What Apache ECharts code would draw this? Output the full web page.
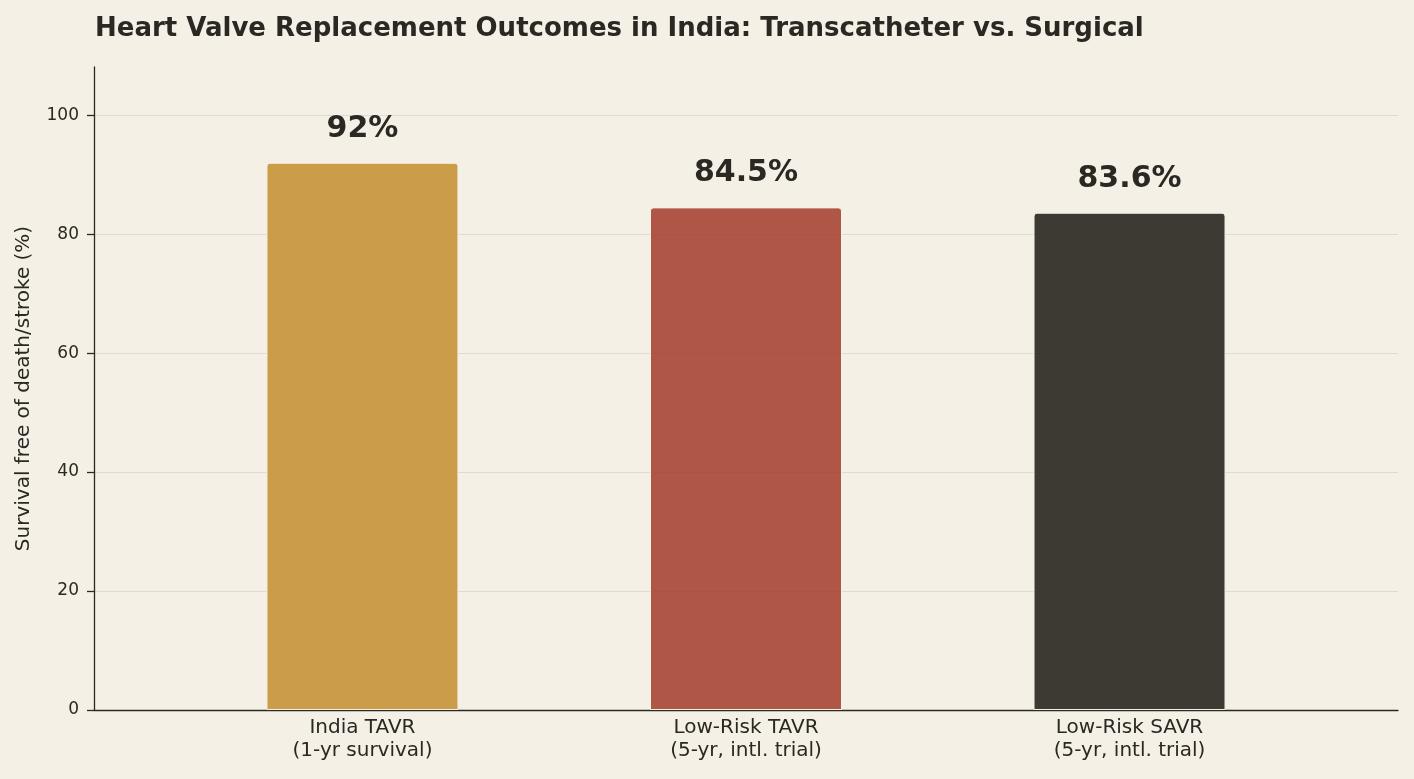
<!DOCTYPE html>
<html>
<head>
<meta charset="utf-8">
<script src="https://cdn.jsdelivr.net/npm/echarts@6/dist/echarts.min.js"></script>
<style>
html,body{margin:0;padding:0;background:#f5f0e6;}
#chart{width:1414px;height:779px;}
</style>
</head>
<body>
<div id="chart"></div>
<script>
const categories = ['India TAVR\n(1-yr survival)', 'Low-Risk TAVR\n(5-yr, intl. trial)', 'Low-Risk SAVR\n(5-yr, intl. trial)'];
const values = [92, 84.5, 83.6];
const valueLabels = ['92%', '84.5%', '83.6%'];
const barColors = ['rgba(200,147,55,0.9)', 'rgba(166,64,48,0.88)', 'rgba(44,42,37,0.92)'];
const yTicks = [0, 20, 40, 60, 80, 100];

const chart = echarts.init(document.getElementById('chart'), null, {renderer: 'canvas'});
const font = 'DejaVu Sans';
chart.setOption({
  backgroundColor: '#f5f0e6',
  animation: false,
  title: {
    text: 'Heart Valve Replacement Outcomes in India: Transcatheter vs. Surgical',
    left: 90, top: 11,
    textStyle: {fontFamily: font, fontSize: 26, fontWeight: 'bold', color: '#2b2824'}
  },
  grid: {left: 94, right: 16, top: 67, bottom: 69, containLabel: false},
  xAxis: {
    type: 'value', min: -0.7, max: 2.7,
    splitLine: {show: false},
    axisLine: {show: true, onZero: false, lineStyle: {color: '#2b2824', width: 1.3}},
    axisTick: {show: false},
    axisLabel: {
      show: true,
      customValues: [0, 1, 2],
      formatter: v => categories[Math.round(v)],
      fontFamily: font, fontSize: 20, color: '#2b2824', lineHeight: 23, margin: 6
    }
  },
  yAxis: {
    type: 'value', min: 0, max: 108.1, interval: 20,
    name: 'Survival free of death/stroke (%)',
    nameLocation: 'middle', nameGap: 60, nameRotate: 90,
    nameTextStyle: {fontFamily: font, fontSize: 20, color: '#2b2824'},
    axisLine: {show: true, onZero: false, lineStyle: {color: '#2b2824', width: 1.3}},
    axisTick: {show: true, length: 7, lineStyle: {color: '#2b2824', width: 1.3}, customValues: yTicks},
    axisLabel: {customValues: yTicks, fontFamily: font, fontSize: 17, color: '#2b2824', margin: 15},
    splitLine: {show: true, lineStyle: {color: 'rgba(43,40,36,0.1)', width: 1}}
  },
  series: [{
    type: 'bar',
    barWidth: 192,
    data: values.map((v, i) => ({
      value: [i, v],
      itemStyle: {color: barColors[i], borderColor: '#f5f0e6', borderWidth: 1, borderRadius: [3, 3, 0, 0]},
      label: {formatter: valueLabels[i]}
    })),
    label: {
      show: true, position: 'top', distance: 19,
      fontFamily: font, fontSize: 30, fontWeight: 'bold', color: '#2b2824'
    }
  }]
});
</script>
</body>
</html>
